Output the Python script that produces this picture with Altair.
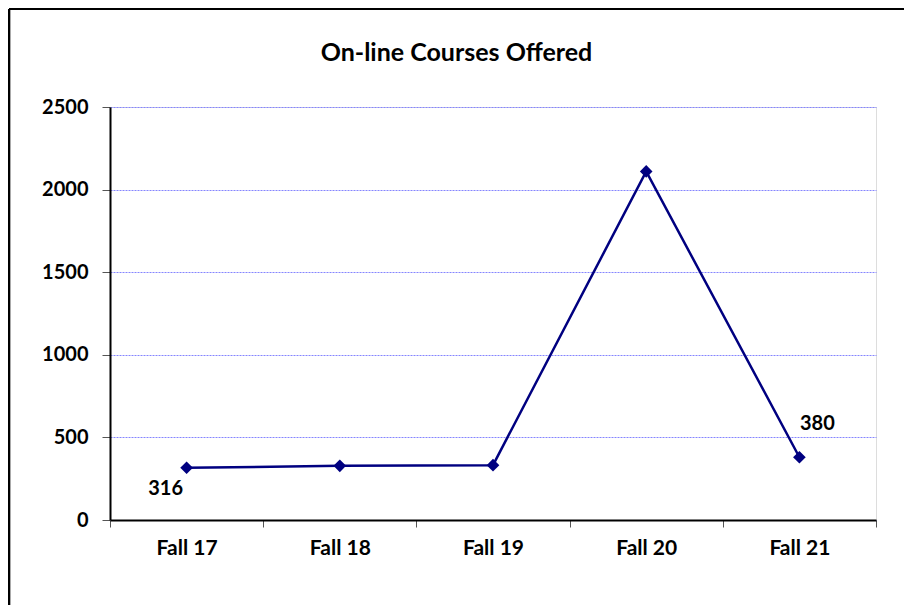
import altair as alt
import pandas as pd

terms = ["Fall 17", "Fall 18", "Fall 19", "Fall 20", "Fall 21"]
courses = [316, 328, 332, 2110, 380]
shown_labels = ["316", "", "", "", "380"]

df = pd.DataFrame({"term": terms, "courses": courses, "label": shown_labels})

FONT = "Lato"
NAVY = "#000080"

base = alt.Chart(df)

x_enc = alt.X(
    "term:N",
    sort=terms,
    title=None,
    scale=alt.Scale(paddingInner=0, paddingOuter=0),
    axis=alt.Axis(
        labelAngle=0,
        labelFont=FONT,
        labelFontSize=21,
        labelFontWeight="bold",
        labelColor="black",
        labelPadding=10,
        tickBand="extent",
        tickSize=7,
        tickColor="#555555",
        tickWidth=1,
        domainColor="black",
        domainWidth=2,
        grid=False,
    ),
)
y_enc = alt.Y(
    "courses:Q",
    title=None,
    scale=alt.Scale(domain=[0, 2500], nice=False),
    axis=alt.Axis(
        values=[0, 500, 1000, 1500, 2000, 2500],
        format="d",
        labelFont=FONT,
        labelFontSize=20,
        labelFontWeight="bold",
        labelColor="black",
        labelPadding=14,
        tickSize=8,
        tickColor="#555555",
        tickWidth=1,
        domainColor="black",
        domainWidth=2,
        grid=True,
        gridColor="#8585ff",
        gridWidth=1,
        gridDash=[2, 1],
    ),
)

line = base.mark_line(color=NAVY, strokeWidth=2.5).encode(x=x_enc, y=y_enc)
points = base.mark_point(shape="diamond", filled=True, color=NAVY, size=160, opacity=1).encode(
    x=alt.X("term:N", sort=terms), y="courses:Q"
)
lab_first = base.transform_filter(alt.datum.term == terms[0]).mark_text(
    font=FONT, fontSize=20, fontWeight="bold", color="black", dx=-21, dy=21, baseline="middle"
).encode(x=alt.X("term:N", sort=terms), y="courses:Q", text="label:N")
lab_last = base.transform_filter(alt.datum.term == terms[-1]).mark_text(
    font=FONT, fontSize=20, fontWeight="bold", color="black", dx=18, dy=-33, baseline="middle"
).encode(x=alt.X("term:N", sort=terms), y="courses:Q", text="label:N")

one = alt.Data(values=[{"t": "On-line Courses Offered"}])
title = alt.Chart(one).mark_text(
    font=FONT, fontSize=25, fontWeight="bold", color="black", align="center", baseline="alphabetic"
).encode(x=alt.value(346.5), y=alt.value(-46.5), text="t:N")

frame_top = alt.Chart(one).mark_rule(color="black", strokeWidth=2).encode(
    x=alt.value(-101), x2=alt.value(800), y=alt.value(-98)
)
frame_left = alt.Chart(one).mark_rule(color="black", strokeWidth=2).encode(
    x=alt.value(-101), y=alt.value(-98), y2=alt.value(500)
)
frame_left_shade = alt.Chart(one).mark_rule(color="#aaaaaa", strokeWidth=1).encode(
    x=alt.value(-99.5), y=alt.value(-97), y2=alt.value(500)
)

chart = alt.layer(
    frame_top, frame_left, frame_left_shade, line, points, lab_first, lab_last, title
).properties(
    width=766,
    height=413,
    autosize=alt.AutoSizeParams(type="none"),
    padding={"left": 102, "top": 99, "right": 28, "bottom": 85},
).configure_view(
    stroke="#808080", strokeWidth=2
).configure(background="white")

chart.save("out.html", embed_options={"renderer": "svg", "actions": False})
